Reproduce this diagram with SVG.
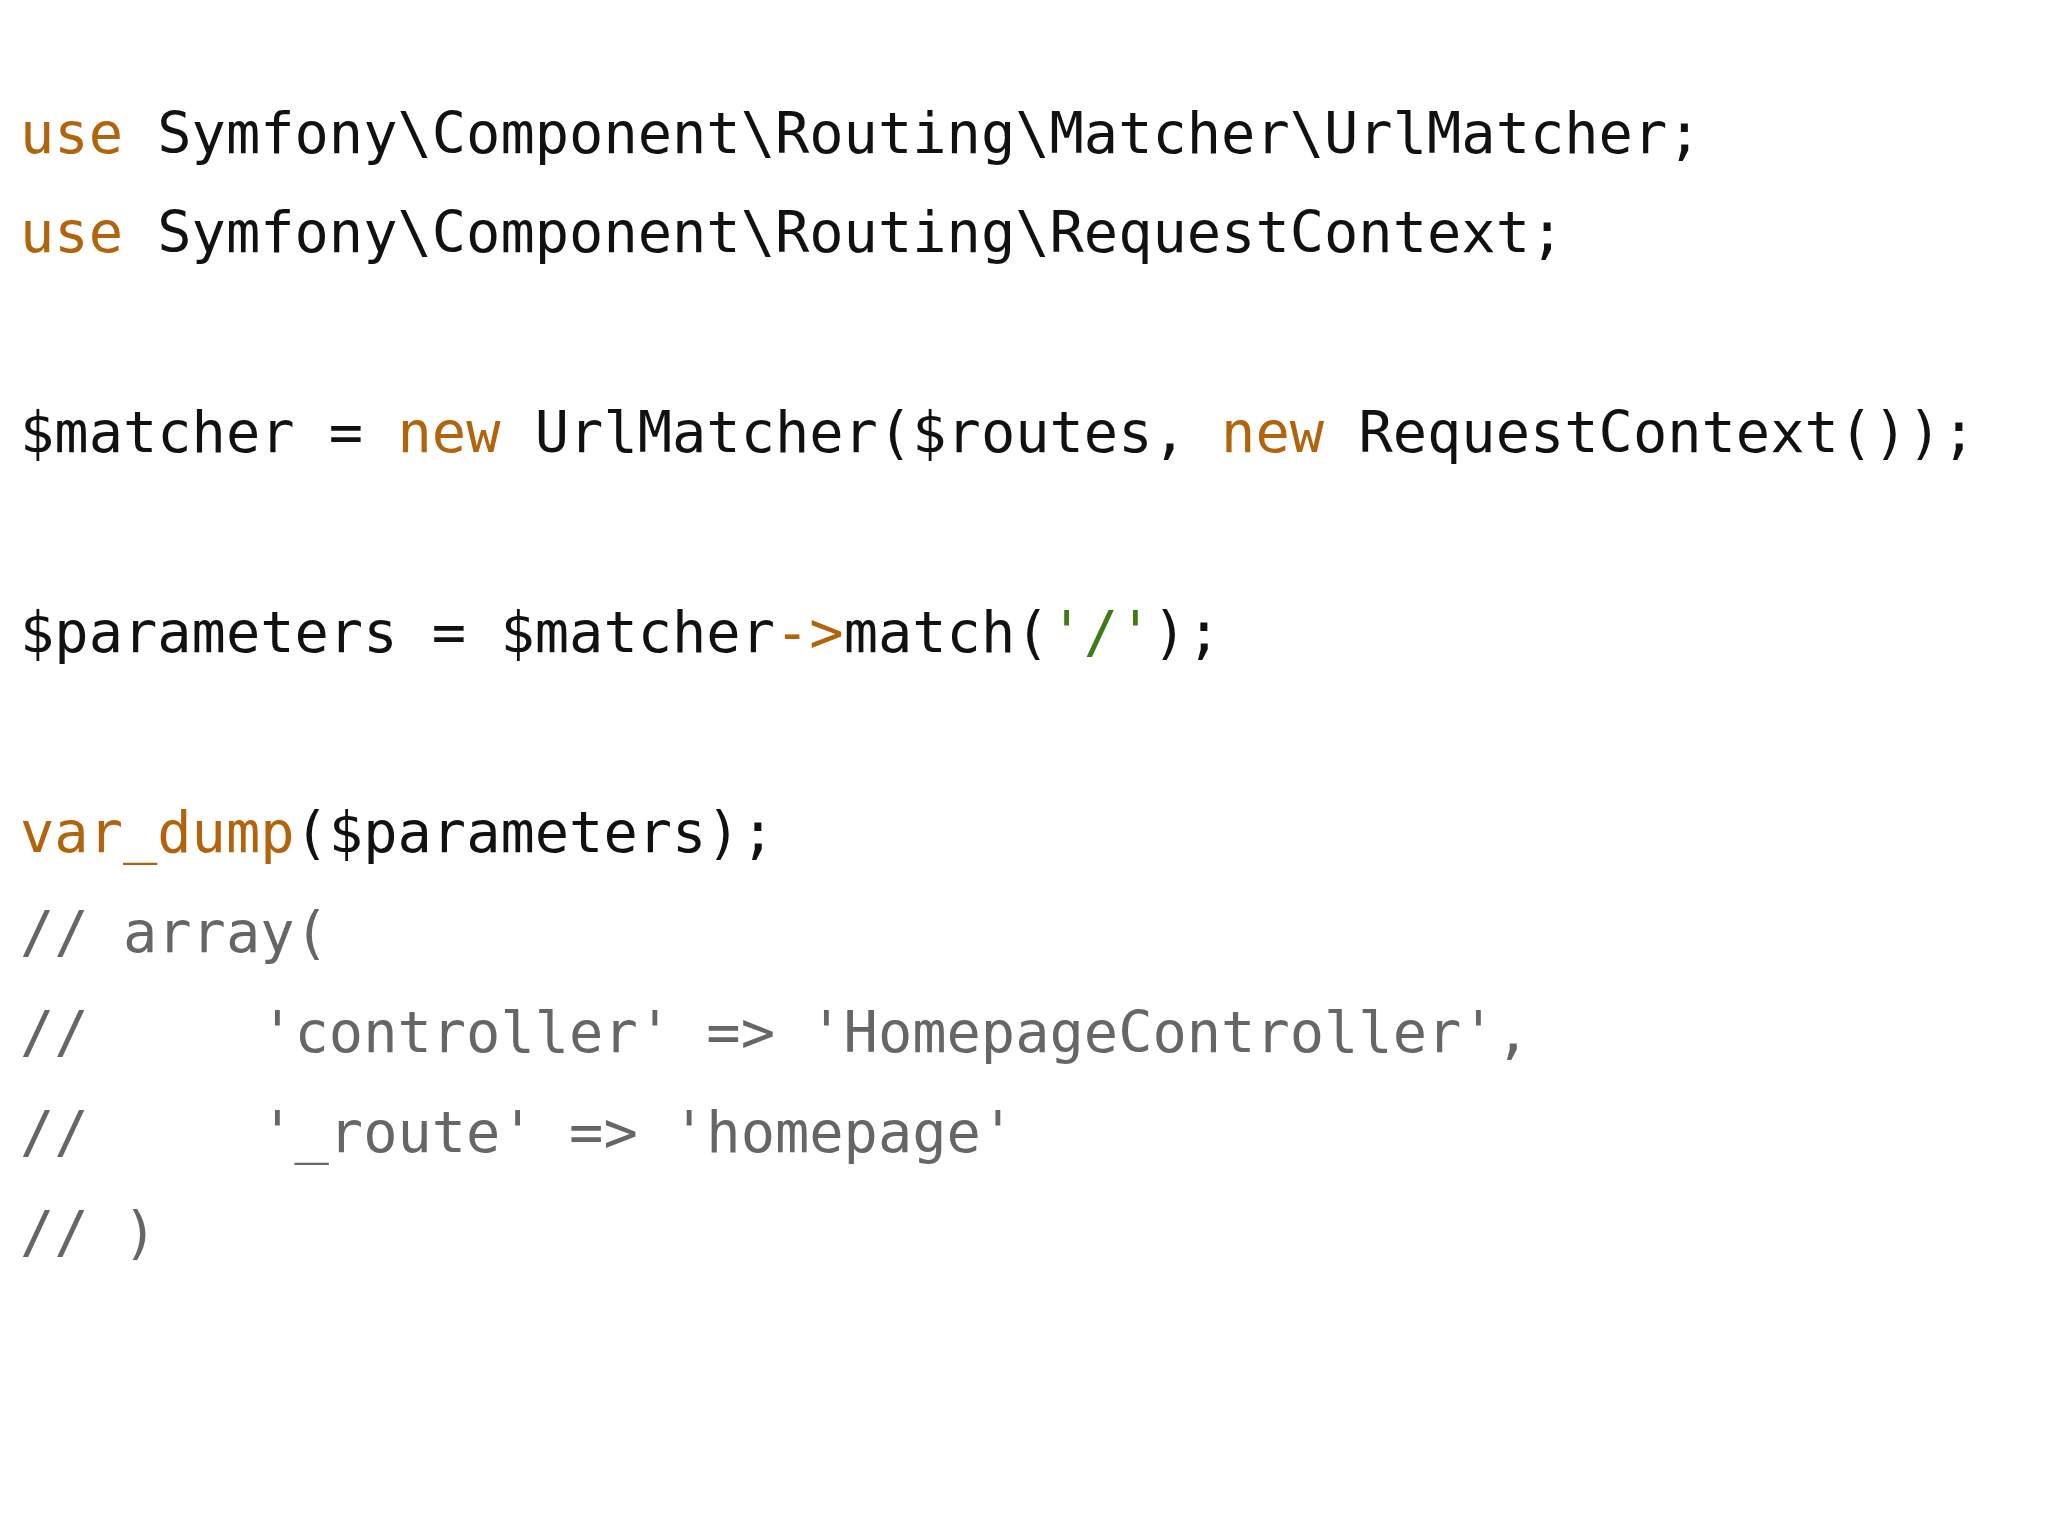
<svg xmlns="http://www.w3.org/2000/svg" width="2048" height="1536" viewBox="0 0 2048 1536">
<style>
text{font-family:"DejaVu Sans Mono","Liberation Mono",monospace;font-size:57px;fill:#111;white-space:pre}
.k{fill:#b1640c}.c{fill:#666}.s{fill:#3f7a14}
</style>
<rect width="2048" height="1536" fill="#fff"/>
<g id="code" xml:space="preserve">
<text x="20" y="153"><tspan class="k">use</tspan> Symfony\Component\Routing\Matcher\UrlMatcher;</text>
<text x="20" y="252"><tspan class="k">use</tspan> Symfony\Component\Routing\RequestContext;</text>
<text x="20" y="452">$matcher = <tspan class="k">new</tspan> UrlMatcher($routes, <tspan class="k">new</tspan> RequestContext());</text>
<text x="20" y="652">$parameters = $matcher<tspan class="k">-&gt;</tspan>match(<tspan class="s">'/'</tspan>);</text>
<text x="20" y="852"><tspan class="k">var_dump</tspan>($parameters);</text>
<text x="20" y="952" class="c">// array(</text>
<text x="20" y="1052" class="c">//     'controller' =&gt; 'HomepageController',</text>
<text x="20" y="1152" class="c">//     '_route' =&gt; 'homepage'</text>
<text x="20" y="1252" class="c">// )</text>
</g>
</svg>
